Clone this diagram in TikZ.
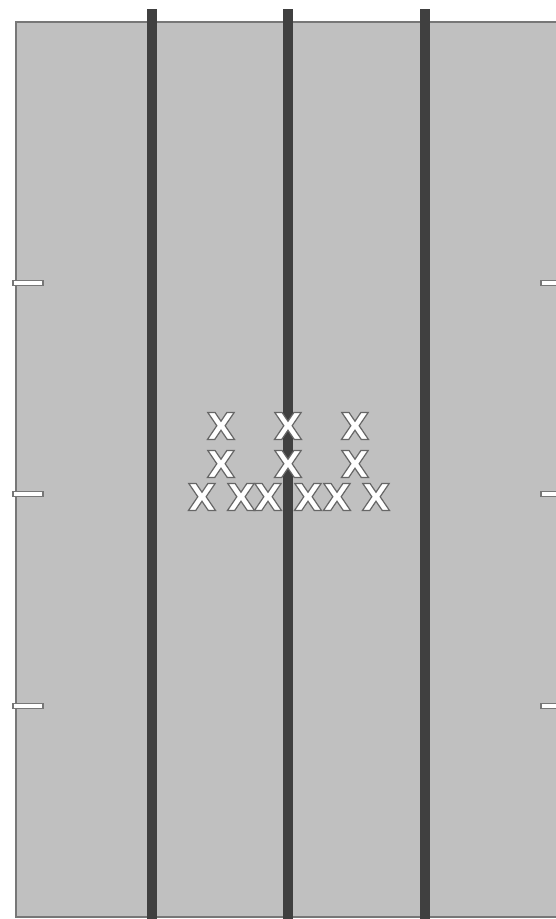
\documentclass[tikz,border=0pt]{standalone}
\usepackage{fontspec}
\setmainfont{Liberation Sans}
\newfontfamily\xfont{DejaVu Sans}
\definecolor{bg}{HTML}{C0C0C0}
\definecolor{edge}{HTML}{777777}
\definecolor{bar}{HTML}{404040}
\tikzset{
  plate/.style={fill=bg,draw=edge,line width=2pt},
  barline/.style={draw=bar,line width=10pt},
  tickbox/.style={fill=white,draw=edge,line width=1.5pt},
  xmark/.style={text=white,font=\xfont\bfseries\fontsize{37}{37}\selectfont,inner sep=0pt}
}
\newcommand{\outl}[1]{\special{pdf:literal direct q 2 Tr 1.2 w 0.4 0.4 0.4 RG}#1\special{pdf:literal direct Q}}
\begin{document}
\begin{tikzpicture}[x=1pt,y=-1pt]
\useasboundingbox (0,0) rectangle (556,919);
\fill[white] (0,0) rectangle (556,919);
\path[plate] (16,22) rectangle (570,917);
\draw[barline] (152,9) -- (152,925);
\draw[barline] (288,9) -- (288,925);
\draw[barline] (424.5,9) -- (424.5,925);
\foreach \y in {283,494,706}{
  \path[tickbox] (13,\y-2.5) rectangle (43,\y+2.5);
  \path[tickbox] (541,\y-2.5) rectangle (570,\y+2.5);
}
\node[xmark] (a1) at (221,426) {\outl{X}};
\node[xmark] (a2) at (288,426) {\outl{X}};
\node[xmark] (a3) at (355,426) {\outl{X}};
\node[xmark] (b1) at (221,464) {\outl{X}};
\node[xmark] (b2) at (288,464) {\outl{X}};
\node[xmark] (b3) at (355,464) {\outl{X}};
\node[xmark] (c1) at (202,497) {\outl{X}};
\node[xmark] (c2) at (241,497) {\outl{X}};
\node[xmark] (c3) at (268,497) {\outl{X}};
\node[xmark] (c4) at (308,497) {\outl{X}};
\node[xmark] (c5) at (337,497) {\outl{X}};
\node[xmark] (c6) at (376,497) {\outl{X}};
\end{tikzpicture}
\end{document}
